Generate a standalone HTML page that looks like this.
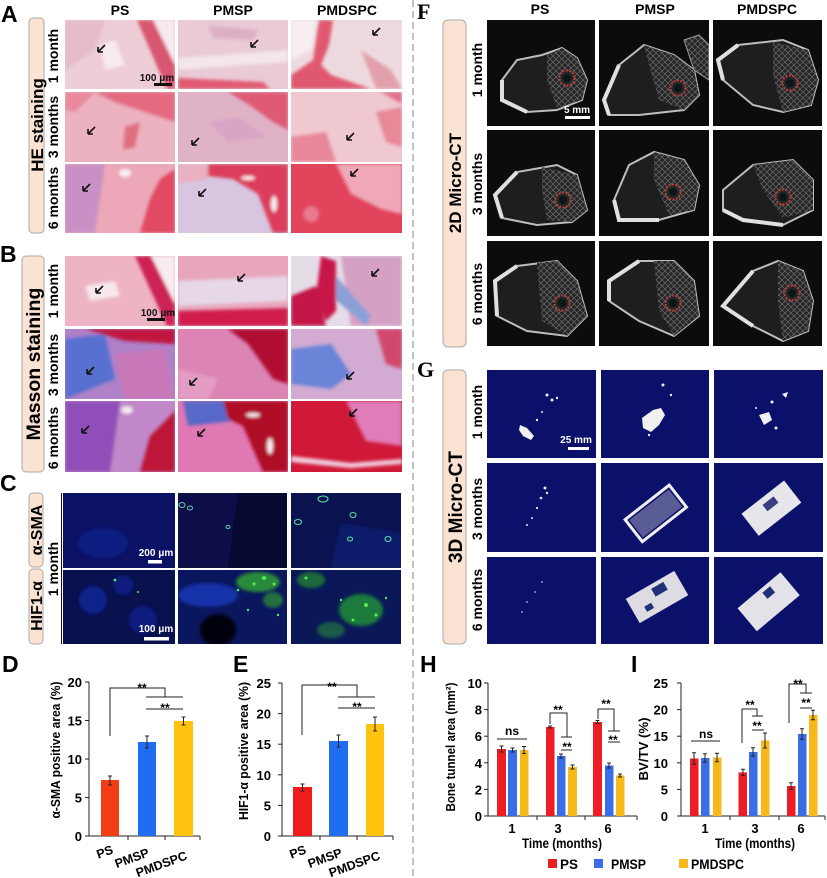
<!DOCTYPE html>
<html><head><meta charset="utf-8"><style>
html,body{margin:0;padding:0;background:#fff;}
svg{display:block;}
text{font-family:"Liberation Sans",Arial,sans-serif;font-weight:bold;}
</style></head><body>
<svg width="827" height="878" viewBox="0 0 827 878" xmlns="http://www.w3.org/2000/svg">
<defs>
<filter id="bl" x="-10%" y="-10%" width="120%" height="120%"><feGaussianBlur stdDeviation="1.6"/></filter>
<g id="ar"><path d="M7,-7 L0.5,-0.5 M0,0 L5,0 M0,0 L0,-5" stroke="#111" stroke-width="1.6" fill="none"/></g>
<pattern id="trab" width="6" height="6" patternUnits="userSpaceOnUse"><rect width="6" height="6" fill="#262626"/><path d="M0,0 L6,6 M6,0 L0,6" stroke="#6a6a6a" stroke-width="0.7"/></pattern>
<g id="hole"><circle r="7.5" fill="#1d2a2a" stroke="#c83a3a" stroke-width="2" stroke-dasharray="2 1.4"/><circle r="4" fill="#0d1515"/></g>
</defs>
<rect width="827" height="878" fill="#fff"/>

<!-- divider -->
<line x1="413" y1="0" x2="413" y2="878" stroke="#9a9a9a" stroke-width="1.2" stroke-dasharray="7 4"/>

<!-- ================= A ================= -->
<text x="1" y="22" font-size="23">A</text>
<text x="120" y="15" font-size="14" text-anchor="middle">PS</text>
<text x="233" y="15" font-size="14" text-anchor="middle">PMSP</text>
<text x="347" y="15" font-size="14" text-anchor="middle">PMDSPC</text>
<rect x="29" y="18" width="15" height="215" rx="4" fill="#fbe3d3" stroke="#aaa"/>
<text transform="rotate(-90 37 125)" x="37" y="125" dy="6" font-size="17" text-anchor="middle">HE staining</text>
<text transform="rotate(-90 53 56)" x="53" y="56" dy="5" font-size="14" text-anchor="middle">1 month</text>
<text transform="rotate(-90 53 127)" x="53" y="127" dy="5" font-size="14" text-anchor="middle">3 months</text>
<text transform="rotate(-90 53 198)" x="53" y="198" dy="5" font-size="14" text-anchor="middle">6 months</text>

<svg x="65" y="20" width="110" height="69"><rect width="110" height="69" fill="#edcdd6"/><g filter="url(#bl)">
<polygon points="0,0 40,0 30,30 0,50" fill="#e6bccb"/><polygon points="88,0 110,0 110,45" fill="#f6eaee"/>
<polygon points="72,0 88,0 110,45 110,69 102,69" fill="#d9566f"/><polygon points="35,25 50,20 60,45 40,50" fill="#f6eaee"/></g></svg>
<svg x="178" y="20" width="110" height="69"><rect width="110" height="69" fill="#e9cad6"/><g filter="url(#bl)">
<polygon points="0,38 110,30 110,42 0,50" fill="#f3e6ec"/><polygon points="0,58 85,62 92,69 0,69" fill="#e05a72"/>
<polygon points="30,5 80,10 75,20 35,18" fill="#dcb0c4"/></g></svg>
<svg x="291" y="20" width="111" height="69"><rect width="111" height="69" fill="#eedade"/><g filter="url(#bl)">
<polygon points="0,0 25,0 20,30 0,40" fill="#f8eef0"/>
<polygon points="28,0 42,0 38,25 30,45 40,55 60,62 80,69 0,69 0,55 22,40" fill="#e05870"/>
<polygon points="70,30 100,50 111,69 85,69" fill="#e2a0ac"/></g></svg>

<svg x="65" y="92" width="110" height="70"><rect width="110" height="70" fill="#ecb2c0"/><g filter="url(#bl)">
<polygon points="30,0 110,0 110,30 80,20 50,10" fill="#e46a80"/><polygon points="60,35 75,30 70,55 58,58" fill="#e07080"/>
<polygon points="0,0 30,0 10,20 0,18" fill="#e88a9c"/></g></svg>
<svg x="178" y="92" width="110" height="70"><rect width="110" height="70" fill="#e0b2c6"/><g filter="url(#bl)">
<polygon points="50,0 110,0 110,38 95,30 70,12" fill="#de5a74"/><polygon points="30,30 60,25 90,45 50,50" fill="#d8a6c4"/></g></svg>
<svg x="291" y="92" width="111" height="70"><rect width="111" height="70" fill="#efc8d0"/><g filter="url(#bl)">
<polygon points="0,45 35,40 45,70 0,70" fill="#e8889a"/><polygon points="85,20 111,15 111,55 95,50" fill="#e88898"/>
<polygon points="90,0 111,0 111,12" fill="#e07088"/></g></svg>

<svg x="65" y="164" width="110" height="69"><rect width="110" height="69" fill="#eca8b8"/><g filter="url(#bl)">
<polygon points="0,0 40,0 30,69 0,69" fill="#c890c4"/><polygon points="75,69 85,35 95,15 110,5 110,69" fill="#e24a64"/>
<ellipse cx="60" cy="9" rx="6" ry="4" fill="#f8f0f4"/></g></svg>
<svg x="178" y="164" width="110" height="69"><rect width="110" height="69" fill="#d8c6e0"/><g filter="url(#bl)">
<polygon points="25,0 110,0 110,69 95,69 80,30 55,15 30,12" fill="#dc3c5a"/><polygon points="0,0 30,0 30,15 0,20" fill="#e8b0c0"/>
<ellipse cx="70" cy="14" rx="7" ry="2" fill="#f6eef2"/><ellipse cx="96" cy="40" rx="3" ry="8" fill="#f6eef2"/></g></svg>
<svg x="291" y="164" width="111" height="69"><rect width="111" height="69" fill="#e2445c"/><g filter="url(#bl)">
<polygon points="45,0 111,0 111,50 90,45 60,30" fill="#f0a8b8"/><circle cx="20" cy="50" r="8" fill="#ea7a8e"/></g></svg>

<use href="#ar" x="98" y="52"/><use href="#ar" x="251" y="47"/><use href="#ar" x="373" y="35"/>
<use href="#ar" x="88" y="134"/><use href="#ar" x="192" y="145"/><use href="#ar" x="347" y="140"/>
<use href="#ar" x="83" y="191"/><use href="#ar" x="199" y="196"/><use href="#ar" x="351" y="176"/>
<text x="157" y="81" font-size="10" text-anchor="middle" fill="#111">100 μm</text>
<rect x="154" y="83" width="18" height="3" fill="#111"/>

<!-- ================= B ================= -->
<text x="0" y="262" font-size="23">B</text>
<rect x="22" y="256" width="22" height="216" rx="4" fill="#fbe3d3" stroke="#aaa"/>
<text transform="rotate(-90 33 364)" x="33" y="364" dy="7" font-size="19.5" text-anchor="middle">Masson staining</text>
<text transform="rotate(-90 53 291)" x="53" y="291" dy="5" font-size="14" text-anchor="middle">1 month</text>
<text transform="rotate(-90 53 365)" x="53" y="365" dy="5" font-size="14" text-anchor="middle">3 months</text>
<text transform="rotate(-90 53 438)" x="53" y="438" dy="5" font-size="14" text-anchor="middle">6 months</text>

<svg x="65" y="256" width="110" height="70"><rect width="110" height="70" fill="#eeb4c4"/><g filter="url(#bl)">
<polygon points="20,30 50,25 55,40 25,45" fill="#f8e8ee"/><polygon points="86,0 110,0 110,48" fill="#f8ecf0"/>
<polygon points="70,0 86,0 110,48 110,70 102,70" fill="#cc2454"/></g></svg>
<svg x="178" y="256" width="110" height="70"><rect width="110" height="70" fill="#e8a6bc"/><g filter="url(#bl)">
<polygon points="0,25 110,20 110,45 0,50" fill="#e6d8e6"/><polygon points="0,55 110,52 110,70 0,70" fill="#d01e4e"/></g></svg>
<svg x="291" y="256" width="111" height="70"><rect width="111" height="70" fill="#e6dce8"/><g filter="url(#bl)">
<polygon points="50,0 111,0 111,70 60,70" fill="#d4a0c4"/><polygon points="45,20 80,60 75,70 40,40" fill="#8ca0d8"/>
<polygon points="30,0 45,5 45,55 35,65 25,40" fill="#c81848"/><polygon points="0,40 25,30 35,70 0,70" fill="#c41446"/></g></svg>

<svg x="65" y="329" width="110" height="70"><rect width="110" height="70" fill="#b080c8"/><g filter="url(#bl)">
<polygon points="0,10 40,5 50,50 0,70" fill="#5870d0"/><polygon points="20,0 110,0 110,15 60,12" fill="#c01840"/>
<polygon points="50,25 100,20 110,70 60,70" fill="#c878b8"/></g></svg>
<svg x="178" y="329" width="110" height="70"><rect width="110" height="70" fill="#dc84b4"/><g filter="url(#bl)">
<polygon points="50,0 110,0 110,55 95,50 70,15" fill="#b01030"/><polygon points="0,40 40,50 30,70 0,70" fill="#e49cc4"/></g></svg>
<svg x="291" y="329" width="111" height="70"><rect width="111" height="70" fill="#d2aad2"/><g filter="url(#bl)">
<polygon points="0,20 40,15 60,45 40,60 0,55" fill="#6a84d8"/><polygon points="85,0 111,0 111,40 95,35" fill="#d04a6c"/></g></svg>

<svg x="65" y="401" width="110" height="71"><rect width="110" height="71" fill="#c088c8"/><g filter="url(#bl)">
<polygon points="0,0 55,0 45,71 0,71" fill="#9050b8"/><polygon points="75,71 85,35 110,10 110,71" fill="#be1438"/>
<ellipse cx="62" cy="9" rx="6" ry="4" fill="#f4eaf2"/></g></svg>
<svg x="178" y="401" width="110" height="71"><rect width="110" height="71" fill="#e078b4"/><g filter="url(#bl)">
<polygon points="5,0 50,0 55,20 10,25" fill="#5868c8"/><polygon points="45,0 110,0 110,71 85,71 65,25 50,18" fill="#b00c28"/>
<ellipse cx="75" cy="14" rx="7" ry="2" fill="#f6eef2"/><ellipse cx="92" cy="45" rx="3" ry="8" fill="#f6eef2"/></g></svg>
<svg x="291" y="401" width="111" height="71"><rect width="111" height="71" fill="#d01838"/><g filter="url(#bl)">
<polygon points="55,0 111,0 111,45 75,40" fill="#e07cb8"/><polygon points="0,55 60,62 111,58 111,63 60,67 0,61" fill="#f0d0e0"/></g></svg>

<use href="#ar" x="96" y="293"/><use href="#ar" x="238" y="281"/><use href="#ar" x="372" y="276"/>
<use href="#ar" x="87" y="374"/><use href="#ar" x="190" y="385"/><use href="#ar" x="347" y="379"/>
<use href="#ar" x="82" y="433"/><use href="#ar" x="198" y="436"/><use href="#ar" x="350" y="416"/>
<text x="158" y="316" font-size="10" text-anchor="middle" fill="#111">100 μm</text>
<rect x="147" y="318" width="18" height="3" fill="#111"/>

<!-- ================= C ================= -->
<text x="0" y="491" font-size="23">C</text>
<rect x="29" y="493" width="14" height="74" rx="4" fill="#fbe3d3" stroke="#aaa"/>
<rect x="29" y="569" width="14" height="75" rx="4" fill="#fbe3d3" stroke="#aaa"/>
<text transform="rotate(-90 36 530)" x="36" y="530" dy="6" font-size="16" text-anchor="middle">α-SMA</text>
<text transform="rotate(-90 36 606)" x="36" y="606" dy="6" font-size="16" text-anchor="middle">HIF1-α</text>
<text transform="rotate(-90 53 569)" x="53" y="569" dy="5" font-size="14" text-anchor="middle">1 month</text>
<line x1="61.5" y1="493" x2="61.5" y2="644" stroke="#111" stroke-width="1"/>

<svg x="63" y="493" width="112" height="75"><rect width="112" height="75" fill="#0b1266"/><g filter="url(#bl)">
<ellipse cx="40" cy="50" rx="25" ry="15" fill="#0e1a80"/></g></svg>
<svg x="178" y="493" width="109" height="75"><rect width="109" height="75" fill="#060a30"/><g filter="url(#bl)">
<polygon points="0,0 60,0 50,75 0,75" fill="#0a1148"/></g>
<g fill="none" stroke="#60d8a0" stroke-width="1"><ellipse cx="4" cy="12" rx="3" ry="2.5"/><ellipse cx="12" cy="15" rx="2.5" ry="2"/><ellipse cx="50" cy="34" rx="2" ry="1.6"/></g></svg>
<svg x="291" y="493" width="110" height="75"><rect width="110" height="75" fill="#0a1250"/><g filter="url(#bl)">
<polygon points="50,30 110,40 110,75 40,75" fill="#0d1a6a"/></g>
<g fill="none" stroke="#60d8a0" stroke-width="1.1"><ellipse cx="32" cy="6" rx="5" ry="3"/><ellipse cx="62" cy="22" rx="3" ry="2.5"/><ellipse cx="7" cy="29" rx="3.5" ry="2.5"/><ellipse cx="59" cy="46" rx="2.5" ry="2"/><ellipse cx="97" cy="46" rx="3" ry="2.5"/></g></svg>

<svg x="63" y="570" width="112" height="74"><rect width="112" height="74" fill="#08104e"/><g filter="url(#bl)">
<circle cx="30" cy="30" r="14" fill="#10228a"/><circle cx="80" cy="50" r="14" fill="#0e1e7e"/><circle cx="60" cy="15" r="10" fill="#0e1e7e"/></g>
<circle cx="52" cy="10" r="1.3" fill="#5f5"/><circle cx="75" cy="22" r="1" fill="#5f5"/></svg>
<svg x="178" y="570" width="109" height="74"><rect width="109" height="74" fill="#0a165e"/><g filter="url(#bl)">
<ellipse cx="40" cy="60" rx="18" ry="16" fill="#020410"/><ellipse cx="30" cy="25" rx="30" ry="12" fill="#1830a8"/>
<ellipse cx="80" cy="12" rx="22" ry="10" fill="#2a8a3a"/><ellipse cx="95" cy="30" rx="10" ry="8" fill="#207040"/></g>
<g fill="#58e858"><circle cx="86" cy="8" r="2"/><circle cx="76" cy="14" r="1.6"/><circle cx="96" cy="14" r="1.5"/><circle cx="70" cy="40" r="1.2"/><circle cx="100" cy="45" r="1.2"/><circle cx="60" cy="20" r="1.3"/></g></svg>
<svg x="291" y="570" width="110" height="74"><rect width="110" height="74" fill="#0a1858"/><g filter="url(#bl)">
<ellipse cx="70" cy="40" rx="22" ry="16" fill="#1e7a3c"/><ellipse cx="20" cy="10" rx="14" ry="8" fill="#1c6a3a"/><ellipse cx="40" cy="60" rx="14" ry="8" fill="#1a5a48"/></g>
<g fill="#58e858"><circle cx="75" cy="35" r="2"/><circle cx="85" cy="45" r="1.6"/><circle cx="62" cy="50" r="1.5"/><circle cx="15" cy="8" r="1.5"/><circle cx="50" cy="30" r="1.2"/><circle cx="95" cy="28" r="1.2"/></g></svg>

<text x="156" y="556" font-size="10" text-anchor="middle" fill="#fff">200 μm</text>
<rect x="148" y="560" width="14" height="3.5" fill="#fff"/>
<text x="156" y="632" font-size="10" text-anchor="middle" fill="#fff">100 μm</text>
<rect x="144" y="637" width="25" height="3.5" fill="#fff"/>

<!-- ================= D ================= -->
<text x="2" y="672" font-size="23">D</text>
<g font-size="13" text-anchor="end">
<text x="82" y="687">20</text><text x="82" y="725.5">15</text><text x="82" y="764">10</text><text x="82" y="802.5">5</text><text x="82" y="841">0</text></g>
<g stroke="#222" stroke-width="1">
<line x1="89" y1="682" x2="89" y2="836"/><line x1="89" y1="836" x2="200" y2="836"/>
<line x1="85" y1="682" x2="89" y2="682"/><line x1="85" y1="720.5" x2="89" y2="720.5"/><line x1="85" y1="759" x2="89" y2="759"/><line x1="85" y1="797.5" x2="89" y2="797.5"/><line x1="85" y1="836" x2="89" y2="836"/>
<line x1="128" y1="836" x2="128" y2="840"/><line x1="165" y1="836" x2="165" y2="840"/><line x1="200" y1="836" x2="200" y2="840"/>
</g>
<rect x="101" y="780" width="18" height="56" fill="#f23c14"/>
<rect x="138" y="742" width="18" height="94" fill="#1f6ef2"/>
<rect x="174" y="721" width="19" height="115" fill="#ffc20e"/>
<g stroke="#222" stroke-width="1" fill="none">
<path d="M110,776 V785 M108,776 H112 M108,785 H112"/>
<path d="M147,736 V748 M145,736 H149 M145,748 H149"/>
<path d="M183.5,717 V725 M181.5,717 H185.5 M181.5,725 H185.5"/>
<path d="M110,736 V688 H165 V697"/><line x1="146" y1="697" x2="183" y2="697"/><line x1="146" y1="709" x2="183" y2="709"/>
</g>
<g font-size="12" text-anchor="middle"><text x="142" y="692">**</text><text x="165" y="712">**</text></g>
<text transform="rotate(-90 55 750)" x="55" y="750" dy="5" font-size="13" text-anchor="middle" textLength="137" lengthAdjust="spacingAndGlyphs">α-SMA  positive area (%)</text>
<g font-size="12.5" text-anchor="end">
<text transform="rotate(-20 114 853)" x="114" y="853">PS</text>
<text transform="rotate(-20 150 856)" x="150" y="856">PMSP</text>
<text transform="rotate(-20 188 859)" x="188" y="859">PMDSPC</text></g>

<!-- ================= E ================= -->
<text x="233" y="672" font-size="23">E</text>
<g font-size="13" text-anchor="end">
<text x="271" y="688">25</text><text x="271" y="718.6">20</text><text x="271" y="749.2">15</text><text x="271" y="779.8">10</text><text x="271" y="810.4">5</text><text x="271" y="841">0</text></g>
<g stroke="#222" stroke-width="1">
<line x1="282" y1="683" x2="282" y2="836"/><line x1="282" y1="836" x2="393" y2="836"/>
<line x1="278" y1="683" x2="282" y2="683"/><line x1="278" y1="713.6" x2="282" y2="713.6"/><line x1="278" y1="744.2" x2="282" y2="744.2"/><line x1="278" y1="774.8" x2="282" y2="774.8"/><line x1="278" y1="805.4" x2="282" y2="805.4"/><line x1="278" y1="836" x2="282" y2="836"/>
<line x1="320" y1="836" x2="320" y2="840"/><line x1="357" y1="836" x2="357" y2="840"/><line x1="393" y1="836" x2="393" y2="840"/>
</g>
<rect x="293" y="787" width="19" height="49" fill="#ee1c1c"/>
<rect x="329" y="741" width="19" height="95" fill="#1f6ef2"/>
<rect x="366" y="724" width="18" height="112" fill="#ffc20e"/>
<g stroke="#222" stroke-width="1" fill="none">
<path d="M302.5,784 V791 M300.5,784 H304.5 M300.5,791 H304.5"/>
<path d="M338.5,735 V747 M336.5,735 H340.5 M336.5,747 H340.5"/>
<path d="M375,717 V731 M373,717 H377 M373,731 H377"/>
<path d="M302,735 V685 H357 V697"/><line x1="338" y1="697" x2="375" y2="697"/><line x1="338" y1="708" x2="375" y2="708"/>
</g>
<g font-size="12" text-anchor="middle"><text x="332" y="691">**</text><text x="357" y="711">**</text></g>
<text transform="rotate(-90 243 751)" x="243" y="751" dy="5" font-size="13" text-anchor="middle" textLength="138" lengthAdjust="spacingAndGlyphs">HIF1-α positive area (%)</text>
<g font-size="12.5" text-anchor="end">
<text transform="rotate(-20 307 853)" x="307" y="853">PS</text>
<text transform="rotate(-20 343 856)" x="343" y="856">PMSP</text>
<text transform="rotate(-20 381 859)" x="381" y="859">PMDSPC</text></g>

<!-- ================= F ================= -->
<text x="417" y="19" font-size="22" style="font-family:'Liberation Serif',serif">F</text>
<text x="540" y="14" font-size="14" text-anchor="middle">PS</text>
<text x="655" y="14" font-size="14" text-anchor="middle">PMSP</text>
<text x="767" y="14" font-size="14" text-anchor="middle">PMDSPC</text>
<rect x="443" y="20" width="23" height="327" rx="5" fill="#fbe3d3" stroke="#aaa"/>
<text transform="rotate(-90 455 183)" x="455" y="183" dy="6" font-size="17" text-anchor="middle">2D Micro-CT</text>
<text transform="rotate(-90 477 70)" x="477" y="70" dy="5" font-size="14" text-anchor="middle">1 month</text>
<text transform="rotate(-90 477 184)" x="477" y="184" dy="5" font-size="14" text-anchor="middle">3 months</text>
<text transform="rotate(-90 477 294)" x="477" y="294" dy="5" font-size="14" text-anchor="middle">6 months</text>

<svg x="487" y="20" width="108" height="106"><rect width="108" height="106" fill="#0c0c0c"/>
<polygon points="15,60 30,40 55,35 75,28 90,38 100,60 95,80 70,90 40,92 15,80" fill="#1e1e1e" stroke="#bdbdbd" stroke-width="2"/>
<polygon points="60,35 75,28 90,38 100,60 95,80 70,88 60,60" fill="url(#trab)"/>
<polyline points="40,92 15,80 15,60" fill="none" stroke="#e0e0e0" stroke-width="4"/>
<use href="#hole" x="80" y="58"/></svg>
<svg x="599" y="20" width="110" height="106"><rect width="110" height="106" fill="#0c0c0c"/>
<polygon points="5,80 20,45 45,25 75,35 95,50 100,75 85,90 40,95 10,95" fill="#1e1e1e" stroke="#bdbdbd" stroke-width="2"/>
<polygon points="45,25 75,35 95,50 100,75 85,90 60,80 50,45" fill="url(#trab)"/>
<polyline points="10,95 5,80 20,45" fill="none" stroke="#e0e0e0" stroke-width="4"/>
<polygon points="85,20 100,15 110,25 110,60 95,50" fill="url(#trab)" stroke="#999"/>
<use href="#hole" x="79" y="68"/></svg>
<svg x="713" y="20" width="109" height="106"><rect width="109" height="106" fill="#0c0c0c"/>
<polygon points="5,40 25,25 70,20 95,30 105,60 98,85 70,92 40,85 10,60" fill="#1e1e1e" stroke="#bdbdbd" stroke-width="2"/>
<polygon points="60,22 95,30 105,60 98,85 70,92 60,55" fill="url(#trab)"/>
<polyline points="10,60 5,40 25,25" fill="none" stroke="#e0e0e0" stroke-width="4"/>
<use href="#hole" x="77" y="63"/></svg>

<svg x="487" y="130" width="108" height="106"><rect width="108" height="106" fill="#0c0c0c"/>
<polygon points="8,65 30,42 70,35 90,45 100,80 85,92 50,95 15,88" fill="#1e1e1e" stroke="#bdbdbd" stroke-width="2"/>
<polygon points="55,37 90,45 100,80 85,92 60,90 55,60" fill="url(#trab)"/>
<polyline points="15,88 8,65 30,42" fill="none" stroke="#e0e0e0" stroke-width="4"/>
<use href="#hole" x="76" y="70"/></svg>
<svg x="599" y="130" width="110" height="106"><rect width="110" height="106" fill="#0c0c0c"/>
<polygon points="15,70 30,35 55,22 85,30 100,55 95,80 60,90 20,90" fill="#1e1e1e" stroke="#bdbdbd" stroke-width="2"/>
<polygon points="55,22 85,30 100,55 95,80 70,85 55,50" fill="url(#trab)"/>
<polyline points="60,90 20,90 15,70" fill="none" stroke="#e0e0e0" stroke-width="4"/>
<use href="#hole" x="74" y="62"/></svg>
<svg x="713" y="130" width="109" height="106"><rect width="109" height="106" fill="#0c0c0c"/>
<polygon points="10,60 40,35 80,30 100,50 100,80 70,95 30,90 10,80" fill="#1e1e1e" stroke="#bdbdbd" stroke-width="2"/>
<polygon points="40,35 80,30 100,50 100,80 70,88 50,60" fill="url(#trab)"/>
<polyline points="70,95 30,90 10,80" fill="none" stroke="#e0e0e0" stroke-width="4"/>
<use href="#hole" x="70" y="67"/></svg>

<svg x="487" y="241" width="108" height="105"><rect width="108" height="105" fill="#0c0c0c"/>
<polygon points="8,40 30,25 70,20 90,40 100,75 80,95 40,90 10,75" fill="#1e1e1e" stroke="#bdbdbd" stroke-width="2"/>
<polygon points="50,22 70,20 90,40 100,75 80,95 55,80" fill="url(#trab)"/>
<polyline points="10,75 8,40 30,25" fill="none" stroke="#e0e0e0" stroke-width="4"/>
<use href="#hole" x="75" y="62"/></svg>
<svg x="599" y="241" width="110" height="105"><rect width="110" height="105" fill="#0c0c0c"/>
<polygon points="10,40 40,20 75,20 95,40 100,75 75,95 40,80 10,60" fill="#1e1e1e" stroke="#bdbdbd" stroke-width="2"/>
<polygon points="55,20 75,20 95,40 100,75 75,95 60,70" fill="url(#trab)"/>
<polyline points="10,60 10,40 40,20" fill="none" stroke="#e0e0e0" stroke-width="4"/>
<use href="#hole" x="74" y="62"/></svg>
<svg x="713" y="241" width="109" height="105"><rect width="109" height="105" fill="#0c0c0c"/>
<polygon points="10,65 40,30 65,20 90,30 100,60 95,90 70,100 40,85" fill="#1e1e1e" stroke="#bdbdbd" stroke-width="2"/>
<polygon points="65,20 90,30 100,60 95,90 70,100 65,60" fill="url(#trab)"/>
<polyline points="40,85 10,65 40,30" fill="none" stroke="#e0e0e0" stroke-width="4"/>
<use href="#hole" x="79" y="52"/></svg>
<text x="577" y="113" font-size="10" text-anchor="middle" fill="#fff">5 mm</text>
<rect x="565" y="116" width="25" height="3" fill="#fff"/>

<!-- ================= G ================= -->
<text x="417" y="377" font-size="22" style="font-family:'Liberation Serif',serif">G</text>
<rect x="443" y="370" width="23" height="274" rx="5" fill="#fbe3d3" stroke="#aaa"/>
<text transform="rotate(-90 455 507)" x="455" y="507" dy="7" font-size="19" text-anchor="middle">3D Micro-CT</text>
<text transform="rotate(-90 477 412)" x="477" y="412" dy="5" font-size="14" text-anchor="middle">1 month</text>
<text transform="rotate(-90 477 509)" x="477" y="509" dy="5" font-size="14" text-anchor="middle">3 months</text>
<text transform="rotate(-90 477 600)" x="477" y="600" dy="5" font-size="14" text-anchor="middle">6 months</text>

<svg x="487" y="370" width="109" height="88"><rect width="109" height="88" fill="#0b106a"/>
<g fill="#f0f0f0"><polygon points="33,55 40,58 47,66 44,70 36,66 32,60"/><circle cx="60" cy="25" r="1.5"/><circle cx="65" cy="30" r="1.5"/><circle cx="70" cy="28" r="1.2"/><circle cx="55" cy="42" r="1"/><circle cx="50" cy="50" r="1.2"/></g></svg>
<svg x="601" y="370" width="108" height="88"><rect width="108" height="88" fill="#0b106a"/>
<g fill="#f0f0f0"><polygon points="41,48 52,40 60,38 64,45 58,55 50,62 42,58"/><circle cx="62" cy="15" r="1.5"/><circle cx="70" cy="25" r="1.2"/><circle cx="48" cy="65" r="1.2"/></g></svg>
<svg x="714" y="370" width="109" height="88"><rect width="109" height="88" fill="#0b106a"/>
<g fill="#f0f0f0"><polygon points="68,24 74,22 72,28"/><circle cx="58" cy="32" r="1.5"/><polygon points="45,45 55,42 58,50 50,55"/><circle cx="62" cy="58" r="1.5"/><circle cx="42" cy="38" r="1"/></g></svg>

<svg x="487" y="463" width="109" height="89"><rect width="109" height="89" fill="#0b106a"/>
<g fill="#e8e8e8"><circle cx="58" cy="25" r="1.5"/><circle cx="54" cy="35" r="1.3"/><circle cx="50" cy="45" r="1.1"/><circle cx="45" cy="55" r="1"/><circle cx="40" cy="62" r="1"/><circle cx="60" cy="30" r="1.2"/></g></svg>
<svg x="601" y="463" width="108" height="89"><rect width="108" height="89" fill="#0b106a"/>
<g transform="rotate(-38 54 51)"><rect x="27" y="37" width="56" height="28" fill="none" stroke="#f0f0f0" stroke-width="3"/><rect x="30" y="40" width="50" height="22" fill="#9a9ab8" opacity="0.55"/></g></svg>
<svg x="714" y="463" width="109" height="89"><rect width="109" height="89" fill="#0b106a"/>
<g transform="rotate(-38 56 45)"><rect x="30" y="32" width="54" height="28" fill="#e6e6ea"/><rect x="52" y="38" width="14" height="8" fill="#3a3e80"/></g></svg>

<svg x="487" y="557" width="109" height="87"><rect width="109" height="87" fill="#0b106a"/>
<g fill="#b8b8d8"><circle cx="55" cy="25" r="0.9"/><circle cx="48" cy="35" r="0.9"/><circle cx="40" cy="45" r="0.9"/><circle cx="35" cy="55" r="0.9"/></g></svg>
<svg x="601" y="557" width="108" height="87"><rect width="108" height="87" fill="#0b106a"/>
<g transform="rotate(-30 56 40)"><rect x="28" y="26" width="56" height="28" fill="#dcdce2"/><rect x="55" y="30" width="14" height="9" fill="#20307a"/><rect x="40" y="42" width="8" height="6" fill="#20307a"/></g></svg>
<svg x="714" y="557" width="109" height="87"><rect width="109" height="87" fill="#0b106a"/>
<g transform="rotate(-40 54 44)"><rect x="26" y="30" width="56" height="30" fill="#e2e2e8"/><rect x="55" y="34" width="10" height="8" fill="#20307a"/></g></svg>
<text x="576" y="443" font-size="10" text-anchor="middle" fill="#fff">25 mm</text>
<rect x="568" y="447" width="21" height="3" fill="#fff"/>

<!-- ================= H ================= -->
<text x="420" y="672" font-size="23">H</text>
<g font-size="13" text-anchor="end">
<text x="482" y="688">10</text><text x="482" y="714.6">8</text><text x="482" y="741.2">6</text><text x="482" y="767.8">4</text><text x="482" y="794.4">2</text><text x="482" y="821">0</text></g>
<g stroke="#222" stroke-width="1">
<line x1="488" y1="683" x2="488" y2="816"/><line x1="488" y1="816" x2="637" y2="816"/>
<line x1="484" y1="683" x2="488" y2="683"/><line x1="484" y1="709.6" x2="488" y2="709.6"/><line x1="484" y1="736.2" x2="488" y2="736.2"/><line x1="484" y1="762.8" x2="488" y2="762.8"/><line x1="484" y1="789.4" x2="488" y2="789.4"/><line x1="484" y1="816" x2="488" y2="816"/>
<line x1="537" y1="816" x2="537" y2="820"/><line x1="585" y1="816" x2="585" y2="820"/><line x1="637" y1="816" x2="637" y2="820"/>
</g>
<g>
<rect x="497" y="749" width="9" height="67" fill="#ee1c24"/><rect x="508" y="750" width="9" height="66" fill="#3a6ee8"/><rect x="520" y="750" width="8.5" height="66" fill="#f7b81a"/>
<rect x="546" y="727" width="8.5" height="89" fill="#ee1c24"/><rect x="557" y="756" width="8.5" height="60" fill="#3a6ee8"/><rect x="568" y="767" width="9" height="49" fill="#f7b81a"/>
<rect x="593" y="722" width="9" height="94" fill="#ee1c24"/><rect x="605" y="765.5" width="8.5" height="50.5" fill="#3a6ee8"/><rect x="616" y="775.4" width="8.5" height="40.6" fill="#f7b81a"/>
</g>
<g stroke="#222" stroke-width="1" fill="none">
<path d="M501.5,746 V752 M499.5,746 H503.5 M499.5,752 H503.5"/>
<path d="M512.5,748 V752 M510.5,748 H514.5 M510.5,752 H514.5"/>
<path d="M524,746.5 V753.5 M522,746.5 H526 M522,753.5 H526"/>
<path d="M550,726 V728 M548,726 H552 M548,728 H552"/>
<path d="M561,754 V758 M559,754 H563 M559,758 H563"/>
<path d="M572.5,765 V769 M570.5,765 H574.5 M570.5,769 H574.5"/>
<path d="M597.5,720.5 V723.5 M595.5,720.5 H599.5 M595.5,723.5 H599.5"/>
<path d="M609,763 V768 M607,763 H611 M607,768 H611"/>
<path d="M620,774 V777 M618,774 H622 M618,777 H622"/>
<line x1="497" y1="739" x2="527" y2="739"/>
<path d="M550,724 V713 H567 V737"/><line x1="561" y1="737" x2="572" y2="737"/><line x1="561" y1="750" x2="572" y2="750"/>
<path d="M598,719 V709 H614 V731"/><line x1="608" y1="731" x2="620" y2="731"/><line x1="608" y1="742" x2="620" y2="742"/>
</g>
<g font-size="12" text-anchor="middle">
<text x="512" y="735">ns</text><text x="558" y="714">**</text><text x="567" y="751">**</text><text x="606" y="708">**</text><text x="613" y="744">**</text></g>
<g font-size="13" text-anchor="middle"><text x="512" y="833">1</text><text x="558" y="833">3</text><text x="608" y="833">6</text></g>
<text x="562" y="848" font-size="14" text-anchor="middle" textLength="80" lengthAdjust="spacingAndGlyphs">Time (months)</text>
<text transform="rotate(-90 450 747)" x="450" y="747" dy="5" font-size="13" text-anchor="middle" textLength="129" lengthAdjust="spacingAndGlyphs">Bone tunnel area (mm²)</text>

<!-- ================= I ================= -->
<text x="631" y="672" font-size="23">I</text>
<g font-size="13" text-anchor="end">
<text x="668" y="688">25</text><text x="668" y="714.6">20</text><text x="668" y="741.2">15</text><text x="668" y="767.8">10</text><text x="668" y="794.4">5</text><text x="668" y="821">0</text></g>
<g stroke="#222" stroke-width="1">
<line x1="681" y1="683" x2="681" y2="816"/><line x1="681" y1="816" x2="825" y2="816"/>
<line x1="677" y1="683" x2="681" y2="683"/><line x1="677" y1="709.6" x2="681" y2="709.6"/><line x1="677" y1="736.2" x2="681" y2="736.2"/><line x1="677" y1="762.8" x2="681" y2="762.8"/><line x1="677" y1="789.4" x2="681" y2="789.4"/><line x1="677" y1="816" x2="681" y2="816"/>
<line x1="730" y1="816" x2="730" y2="820"/><line x1="779" y1="816" x2="779" y2="820"/><line x1="825" y1="816" x2="825" y2="820"/>
</g>
<g>
<rect x="690" y="758.5" width="8.5" height="57.5" fill="#ee1c24"/><rect x="701" y="758" width="8.5" height="58" fill="#3a6ee8"/><rect x="713" y="757.5" width="8.5" height="58.5" fill="#f7b81a"/>
<rect x="738.5" y="772.4" width="8.5" height="43.6" fill="#ee1c24"/><rect x="749" y="752" width="8.5" height="64" fill="#3a6ee8"/><rect x="761" y="740.5" width="8.5" height="75.5" fill="#f7b81a"/>
<rect x="787" y="786" width="8.5" height="30" fill="#ee1c24"/><rect x="798" y="734" width="8.5" height="82" fill="#3a6ee8"/><rect x="809" y="715" width="8.5" height="101" fill="#f7b81a"/>
</g>
<g stroke="#222" stroke-width="1" fill="none">
<path d="M694,752.7 V764.3 M692,752.7 H696 M692,764.3 H696"/>
<path d="M705,753.7 V762.3 M703,753.7 H707 M703,762.3 H707"/>
<path d="M717,753.3 V761.7 M715,753.3 H719 M715,761.7 H719"/>
<path d="M743,769.2 V775.6 M741,769.2 H745 M741,775.6 H745"/>
<path d="M753,747.8 V756.2 M751,747.8 H755 M751,756.2 H755"/>
<path d="M765,733 V748 M763,733 H767 M763,748 H767"/>
<path d="M791,782.8 V789.2 M789,782.8 H793 M789,789.2 H793"/>
<path d="M802,728.7 V739.3 M800,728.7 H804 M800,739.3 H804"/>
<path d="M813,710.2 V719.8 M811,710.2 H815 M811,719.8 H815"/>
<line x1="691" y1="741" x2="720" y2="741"/>
<path d="M742,743 V709 H757 V716"/><line x1="752" y1="716" x2="763" y2="716"/><line x1="752" y1="730" x2="764" y2="730"/>
<path d="M789,723 V684 H806 V693"/><line x1="800" y1="693" x2="812" y2="693"/><line x1="800" y1="708" x2="812" y2="708"/>
</g>
<g font-size="12" text-anchor="middle">
<text x="706" y="738">ns</text><text x="750" y="709">**</text><text x="757" y="730">**</text><text x="798" y="688">**</text><text x="806" y="707">**</text></g>
<g font-size="13" text-anchor="middle"><text x="705" y="833">1</text><text x="755" y="833">3</text><text x="801" y="833">6</text></g>
<text x="755" y="848" font-size="14" text-anchor="middle" textLength="80" lengthAdjust="spacingAndGlyphs">Time (months)</text>
<text transform="rotate(-90 643 749)" x="643" y="749" dy="5" font-size="13" text-anchor="middle" textLength="63" lengthAdjust="spacingAndGlyphs">BV/TV (%)</text>

<!-- legend -->
<rect x="548" y="859" width="9" height="9" fill="#ee1c24"/>
<text x="560" y="869" font-size="14" textLength="18" lengthAdjust="spacingAndGlyphs">PS</text>
<rect x="594" y="859" width="9" height="9" fill="#3a6ee8"/>
<text x="611" y="869" font-size="14" textLength="35" lengthAdjust="spacingAndGlyphs">PMSP</text>
<rect x="679" y="859" width="9" height="9" fill="#f7b81a"/>
<text x="691" y="869" font-size="14" textLength="53" lengthAdjust="spacingAndGlyphs">PMDSPC</text>
</svg>
</body></html>
